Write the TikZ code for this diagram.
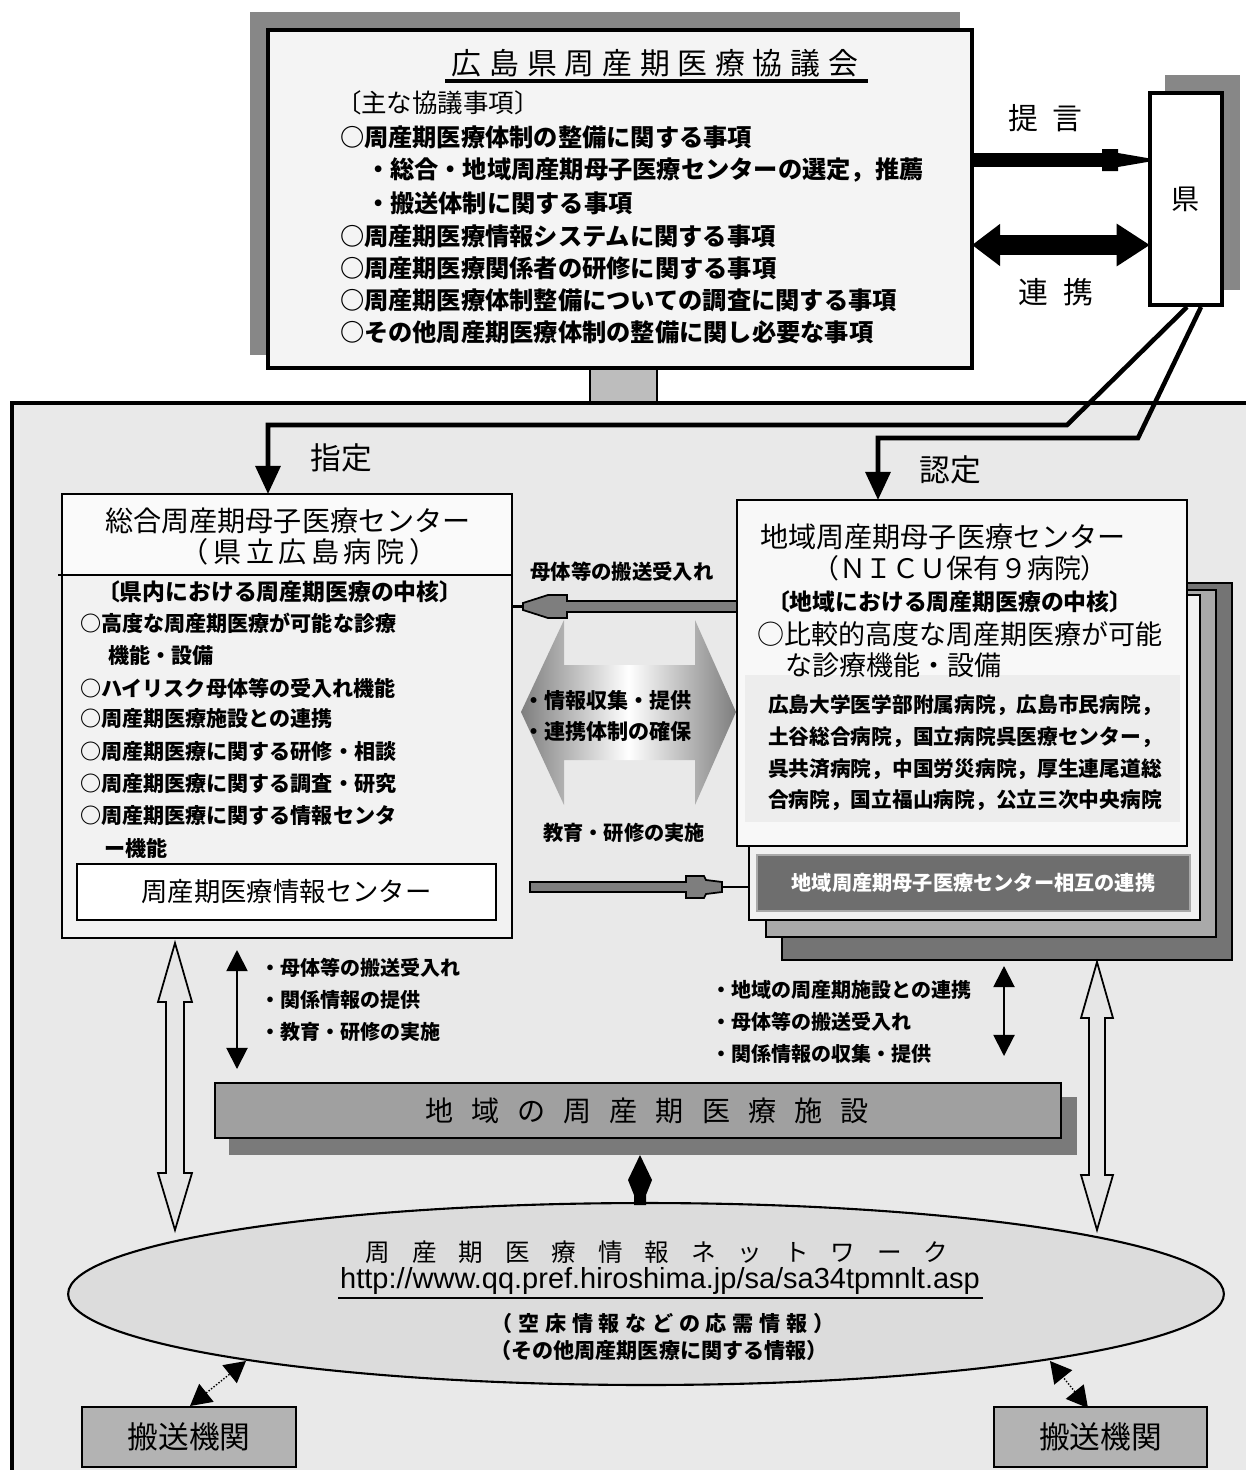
\documentclass[tikz,border=0pt]{standalone}
\usepackage{fontspec}
\setmainfont{Noto Sans CJK JP}
\newfontfamily\urlfont{Liberation Sans}
\usetikzlibrary{arrows.meta,shapes.geometric,fit,calc}
\newcommand\fsz[1]{\fontsize{#1}{#1}\selectfont}
\definecolor{bgA}{HTML}{E9E9E9}
\definecolor{topA}{HTML}{F4F4F4}
\definecolor{shadowA}{HTML}{878787}
\definecolor{pillarA}{HTML}{BDBDBD}
\definecolor{lboxA}{HTML}{F2F2F2}
\definecolor{headA}{HTML}{FAFAFA}
\definecolor{stackA}{HTML}{747474}
\definecolor{stackB}{HTML}{A9A9A9}
\definecolor{stackC}{HTML}{F1F1F1}
\definecolor{darkbar}{HTML}{6E6E6E}
\definecolor{rfront}{HTML}{F8F8F8}
\definecolor{listA}{HTML}{EDEDED}
\definecolor{arrowgray}{HTML}{7E7E7E}
\definecolor{hollowgray}{HTML}{E6E6E6}
\definecolor{barA}{HTML}{A0A0A0}
\definecolor{barshadow}{HTML}{7A7A7A}
\definecolor{ellA}{HTML}{DCDCDC}
\definecolor{transA}{HTML}{B3B3B3}
\begin{document}
\begin{tikzpicture}[x=0.02cm,y=-0.02cm,
  every node/.style={inner sep=0pt, outer sep=0pt},
  lbl/.style={anchor=west},
  conn/.style={draw=black, line width=2.6pt, -{Triangle[length=16pt,width=14pt]}},
  gryarrow/.style={fill=arrowgray, draw=black, line width=1pt},
  hollow/.style={fill=hollowgray, draw=black, line width=1pt},
  smallarr/.style={draw=black, line width=1.1pt, {Triangle[length=12pt,width=12pt]}-{Triangle[length=12pt,width=12pt]}},
  transarr/.style={draw=black, line width=0.8pt, densely dotted, {Triangle[length=12pt,width=13pt]}-{Triangle[length=12pt,width=13pt]}},
]
\clip (0,0) rectangle (1246,1470);
\fill[white] (0,0) rectangle (1246,1470);

% ---- council box
\fill[shadowA] (250,12) rectangle (960,355);
\node[fit={(590,360)(657,410)}, fill=pillarA] (pillar) {};
\node[fit={(268,30)(972,368)}, draw, line width=2.2pt, fill=topA] (top) {};
\node (title) at (655,63) {\fsz{17pt}\addfontfeature{LetterSpace=26}広島県周産期医療協議会};
\draw[line width=2pt] (445,81) -- (868,81);
\node[lbl] (c0) at (336,103) {\fsz{14.5pt}〔主な協議事項〕};
\node[lbl] (c1) at (340,137) {\fsz{13.8pt}\bfseries ○周産期医療体制の整備に関する事項};
\node[lbl] (c2) at (366,170) {\fsz{13.8pt}\bfseries ・総合・地域周産期母子医療センターの選定，推薦};
\node[lbl] (c3) at (366,203) {\fsz{13.8pt}\bfseries ・搬送体制に関する事項};
\node[lbl] (c4) at (340,236) {\fsz{13.8pt}\bfseries ○周産期医療情報システムに関する事項};
\node[lbl] (c5) at (340,268) {\fsz{13.8pt}\bfseries ○周産期医療関係者の研修に関する事項};
\node[lbl] (c6) at (340,300) {\fsz{13.8pt}\bfseries ○周産期医療体制整備についての調査に関する事項};
\node[lbl] (c7) at (340,332) {\fsz{13.8pt}\bfseries ○その他周産期医療体制の整備に関し必要な事項};

% ---- outer region
\node[fit={(12,403)(1300,1530)}, draw, line width=2.2pt, fill=bgA] (region) {};
\draw[line width=1.5pt] (pillar.west |- top.south) -- (pillar.west |- region.north)
                        (pillar.east |- top.south) -- (pillar.east |- region.north);

% ---- prefecture
\fill[shadowA] (1165,75) rectangle (1240,290);
\node[fit={(1150,93)(1222,305)}, draw, line width=2.2pt, fill=white] (ken) {};
\node (kenlbl) at (ken.center) {\fsz{16pt}県};

\coordinate (pa) at (972,160);
\draw[line width=8pt] (top.east |- pa) -- (1104,160);
\fill (1102,149) -- (1118,149) -- (1118,153) -- (1150,158.5) -- (1150,161.5) -- (1118,167) -- (1118,171) -- (1102,171) -- cycle;
\node (teigen) at (1045,118) {\fsz{17pt}提\hspace{8pt}言};
\coordinate (pb) at (972,245);
\draw[line width=11pt, {Triangle[length=16pt,width=23pt]}-{Triangle[length=19pt,width=23pt]}] (top.east |- pb) -- (ken.west |- pb);
\node (renkei) at (1056,292) {\fsz{17pt}連\hspace{9pt}携};

% ---- left centre
\node[fit={(62,494)(512,938)}, draw, line width=1.1pt, fill=lboxA] (lbox) {};
\fill[headA] (63,495) rectangle (511,575);
\coordinate (dv) at (58,575);
\draw[line width=1.7pt] (dv) -- (lbox.east |- dv);
\node (lt1) at (288,521) {\fsz{16pt}総合周産期母子医療センター};
\node (lt2) at (309,552) {\fsz{16pt}\addfontfeature{LetterSpace=16}（県立広島病院）};
\node[lbl] (lh) at (97,592) {\fsz{13pt}\bfseries〔県内における周産期医療の中核〕};
\node[lbl] (l1) at (80,623) {\fsz{12pt}\bfseries ○高度な周産期医療が可能な診療};
\node[lbl] (l1b) at (108,655) {\fsz{12pt}\bfseries 機能・設備};
\node[lbl] (l2) at (80,688) {\fsz{12pt}\bfseries ○ハイリスク母体等の受入れ機能};
\node[lbl] (l3) at (80,719) {\fsz{12pt}\bfseries ○周産期医療施設との連携};
\node[lbl] (l4) at (80,752) {\fsz{12pt}\bfseries ○周産期医療に関する研修・相談};
\node[lbl] (l5) at (80,784) {\fsz{12pt}\bfseries ○周産期医療に関する調査・研究};
\node[lbl] (l6) at (80,816) {\fsz{12pt}\bfseries ○周産期医療に関する情報センタ};
\node[lbl] (l6b) at (104,848) {\fsz{12pt}\bfseries ー機能};
\node[fit={(77,864)(496,920)}, draw, line width=1.4pt, fill=white] (infoc) {};
\node (infolbl) at (infoc.center) {\fsz{15pt}周産期医療情報センター};

% ---- right centres (stack)
\node[fit={(782,583)(1232,960)}, draw, line width=1.2pt, fill=stackA] (rs4) {};
\node[fit={(766,590)(1216,937)}, draw, line width=1.2pt, fill=stackB] (rs3) {};
\node[fit={(749,595)(1200,920)}, draw, line width=1.2pt, fill=stackC] (rs2) {};
\node[fit={(757,855)(1190,911)}, draw=stackB, line width=0.8pt, fill=darkbar] (rbar) {};
\node[text=white] (rbarlbl) at (rbar.center) {\fsz{11.5pt}\bfseries 地域周産期母子医療センター相互の連携};
\node[fit={(737,500)(1187,846)}, draw, line width=1.2pt, fill=rfront] (rbox) {};
\fill[listA] (745,675) rectangle (1180,822);
\node (rt1) at (943,537) {\fsz{16pt}地域周産期母子医療センター};
\node (rt2) at (960,568) {\fsz{15.3pt}（ＮＩＣＵ保有９病院）};
\node[lbl] (rh) at (767,602) {\fsz{13pt}\bfseries〔地域における周産期医療の中核〕};
\node[lbl] (r1) at (757,634) {\fsz{15.4pt}○比較的高度な周産期医療が可能};
\node[lbl] (r1b) at (785,665) {\fsz{15.4pt}な診療機能・設備};
\node[lbl] (h1) at (768,705) {\fsz{11.8pt}\bfseries 広島大学医学部附属病院，広島市民病院，};
\node[lbl] (h2) at (768,737) {\fsz{11.8pt}\bfseries 土谷総合病院，国立病院呉医療センター，};
\node[lbl] (h3) at (768,769) {\fsz{11.8pt}\bfseries 呉共済病院，中国労災病院，厚生連尾道総};
\node[lbl] (h4) at (768,800) {\fsz{11.8pt}\bfseries 合病院，国立福山病院，公立三次中央病院};

% ---- middle arrows
\node (m0) at (622,572) {\fsz{11.6pt}\bfseries 母体等の搬送受入れ};
\draw[gryarrow] (rbox.west |- 0,601) -- (567,601) -- (567,595) -- (548,595) -- (523,603) -- (523,610) -- (548,618) -- (567,618) -- (567,612) -- (rbox.west |- 0,612) -- cycle;
\draw[line width=1.4pt] (523,606.5) -- (lbox.east |- 0,606.5);
\shade[left color=arrowgray, right color=arrowgray, middle color=white]
  (521,712) -- (564,620) -- (564,665) -- (695,665) -- (695,620) -- (736,712) -- (695,805) -- (695,760) -- (564,760) -- (564,805) -- cycle;
\node[lbl] (m1) at (523,700) {\fsz{12pt}\bfseries ・情報収集・提供};
\node[lbl] (m2) at (523,732) {\fsz{12pt}\bfseries ・連携体制の確保};
\node (m3) at (624,833) {\fsz{11.5pt}\bfseries 教育・研修の実施};
\draw[gryarrow] (530,882) -- (686,882) -- (686,876) -- (704,876) -- (706,880) -- (722,882) -- (722,892) -- (706,894) -- (704,898) -- (686,898) -- (686,892) -- (530,892) -- cycle;
\draw[line width=1.6pt] (722,887) -- (rs2.west |- 0,887);

% ---- appointment connectors from prefecture
\coordinate (k1) at (1187,307);
\coordinate (k1b) at (1067,425);
\coordinate (s1) at (268,494);
\coordinate (k2) at (1201,307);
\coordinate (k2b) at (1138,438);
\coordinate (s2) at (878,500);
\draw[conn] (k1) -- (k1b) -- (k1b -| s1) -- (s1);
\draw[conn] (k2) -- (k2b) -- (k2b -| s2) -- (s2);
\node (shitei) at (341,458) {\fsz{17.5pt}指定};
\node (nintei) at (950,470) {\fsz{17.5pt}認定};

% ---- lower arrows and labels
\draw[hollow] (175,943) -- (192,1002) -- (184,1002) -- (184,1173) -- (192,1173) -- (175,1230) -- (158,1173) -- (166,1173) -- (166,1002) -- (158,1002) -- cycle;
\draw[hollow] (1097,962) -- (1113,1018) -- (1105,1018) -- (1105,1175) -- (1113,1175) -- (1097,1230) -- (1081,1175) -- (1089,1175) -- (1089,1018) -- (1081,1018) -- cycle;
\coordinate (sa1) at (237,950); \coordinate (sa2) at (237,1069);
\draw[smallarr] (sa1) -- (sa2);
\coordinate (sb1) at (1004,966); \coordinate (sb2) at (1004,1056);
\draw[smallarr] (sb1) -- (sb2);
\node[lbl] (b1) at (260,968) {\fsz{11.4pt}\bfseries ・母体等の搬送受入れ};
\node[lbl] (b2) at (260,1000) {\fsz{11.4pt}\bfseries ・関係情報の提供};
\node[lbl] (b3) at (260,1032) {\fsz{11.4pt}\bfseries ・教育・研修の実施};
\node[lbl] (b4) at (711,990) {\fsz{11.4pt}\bfseries ・地域の周産期施設との連携};
\node[lbl] (b5) at (711,1022) {\fsz{11.4pt}\bfseries ・母体等の搬送受入れ};
\node[lbl] (b6) at (711,1054) {\fsz{11.4pt}\bfseries ・関係情報の収集・提供};

% ---- regional facilities bar
\fill[barshadow] (229,1097) rectangle (1077,1155);
\node[fit={(215,1083)(1061,1138)}, draw, line width=1.5pt, fill=barA] (fac) {};
\node (faclbl) at (647,1111) {\fsz{16pt}\addfontfeature{LetterSpace=64}地域の周産期医療施設};

% ---- network ellipse
\node[ellipse, draw, line width=1.2pt, fill=ellA, minimum width=23.12cm, minimum height=3.64cm] (net) at (646,1294) {};
\fill (640,1155) -- (652,1180) -- (646,1195) -- (646,1205) -- (634,1205) -- (634,1195) -- (628,1180) -- cycle;
\node (n1) at (657,1252) {\fsz{14pt}\addfontfeature{LetterSpace=89}周産期医療情報ネットワーク};
\node (n2) at (660,1281) {\urlfont\fsz{16.5pt}http://www.qq.pref.hiroshima.jp/sa/sa34tpmnlt.asp};
\draw[line width=1.5pt] (338,1298) -- (983,1298);
\node (n3) at (663,1323) {\fsz{12pt}\bfseries\addfontfeature{LetterSpace=27}（空床情報などの応需情報）};
\node (n4) at (659,1350) {\fsz{12pt}\bfseries （その他周産期医療に関する情報）};

% ---- transport agencies
\node[fit={(82,1407)(296,1467)}, draw, line width=1.5pt, fill=transA] (tr1) {};
\node (tr1lbl) at (tr1.center) {\fsz{17.5pt}搬送機関};
\node[fit={(994,1407)(1207,1467)}, draw, line width=1.5pt, fill=transA] (tr2) {};
\node (tr2lbl) at (tr2.center) {\fsz{17.5pt}搬送機関};
\coordinate (ta1) at (190,1406); \coordinate (ta2) at (246,1361);
\draw[transarr] (ta1) -- (ta2);
\coordinate (tb1) at (1088,1408); \coordinate (tb2) at (1050,1361);
\draw[transarr] (tb1) -- (tb2);
\end{tikzpicture}
\end{document}
